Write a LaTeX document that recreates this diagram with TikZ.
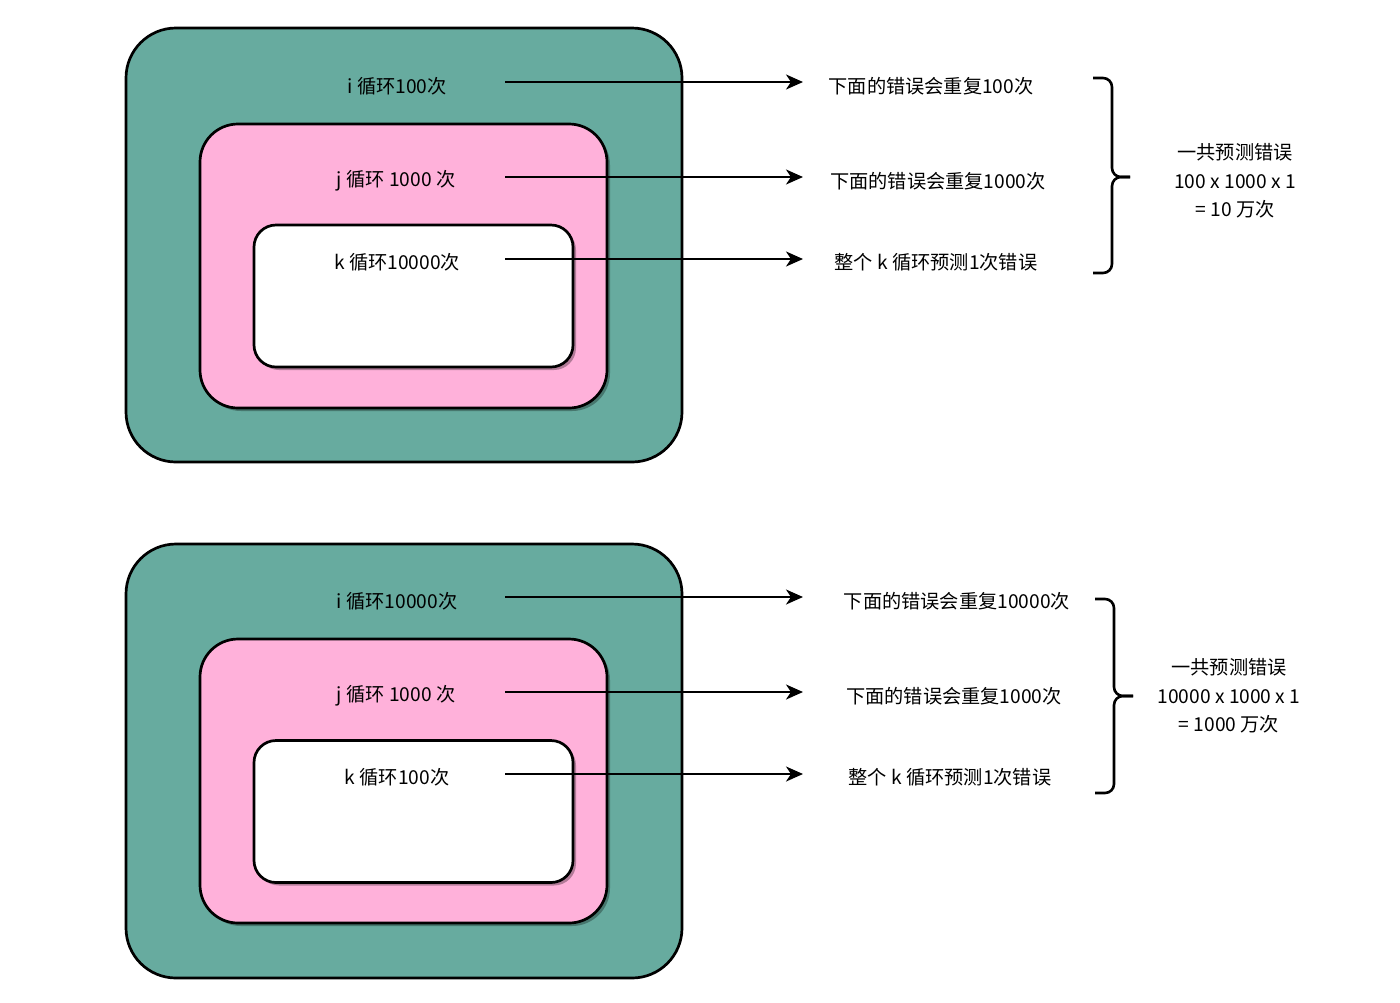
\documentclass[tikz,border=0pt]{standalone}
\usepackage{fontspec}
\setmainfont{Noto Sans CJK SC}
\usetikzlibrary{arrows.meta,shadows}
\definecolor{loopgreen}{HTML}{67AB9F}
\definecolor{looppink}{HTML}{FFB1DA}

\begin{document}
\begin{tikzpicture}[x=0.5pt,y=-0.5pt,
	font=\fontsize{9.6}{14.3}\selectfont,
	loopbox/.style={draw,line width=1.35pt,rectangle,inner sep=0pt,outer sep=0pt},
	iloop/.style={loopbox,fill=loopgreen,minimum width=278pt,minimum height=217pt,rounded corners=25pt},
	jloop/.style={loopbox,fill=looppink,minimum width=203.5pt,minimum height=142pt,rounded corners=19pt,
		drop shadow={shadow xshift=1.5pt,shadow yshift=-1.5pt,opacity=0.3,fill=black}},
	kloop/.style={loopbox,fill=white,minimum width=159.5pt,minimum height=71pt,rounded corners=11pt,
		drop shadow={shadow xshift=1.5pt,shadow yshift=-1.5pt,opacity=0.3,fill=black}},
	note/.style={align=center,inner sep=1pt},
	ptr/.style={-{Stealth[length=8.5pt,width=7.5pt,inset=2.5pt]},line width=1.15pt},
	bracket/.style={line width=1.3pt,rounded corners=4.5pt}]
	\useasboundingbox (0,0) rectangle (1400,1002);
	% first case: i 100, j 1000, k 10000
	\node[iloop] (I1) at (404,245) {};
	\node[jloop] (J1) at (403.5,266) {};
	\node[kloop] (K1) at (413.5,296) {};
	\node[note] (I1t) at (397,86) {i 循环100次};
	\node[note] (J1t) at (396,181) {j 循环 1000 次};
	\node[note] (K1t) at (397,262) {k 循环10000次};
	\node[note] (I1r) at (931,86) {下面的错误会重复100次};
	\node[note] (J1r) at (938,181) {下面的错误会重复1000次};
	\node[note] (K1r) at (936,262) {整个 k 循环预测1次错误};
	\node[note] (S1) at (1235,181) {一共预测错误\\100 x 1000 x 1\\= 10 万次};
	\coordinate (I1a) at (505,82);  \coordinate (I1b) at (803,82);
	\coordinate (J1a) at (505,177); \coordinate (J1b) at (803,177);
	\coordinate (K1a) at (505,259); \coordinate (K1b) at (803,259);
	\coordinate (B1a) at (1093,78); \coordinate (B1b) at (1093,273);
	\coordinate (B1c) at (1130,177);
	\draw[ptr] (I1a) -- (I1b);
	\draw[ptr] (J1a) -- (J1b);
	\draw[ptr] (K1a) -- (K1b);
	\draw[bracket] (B1a) -- ++(19,0) |- (B1c);
	\draw[bracket] (B1b) -- ++(19,0) |- (B1c);
	% second case: i 10000, j 1000, k 100
	\node[iloop] (I2) at (404,761) {};
	\node[jloop] (J2) at (403.5,781) {};
	\node[kloop] (K2) at (413.5,811.5) {};
	\node[note] (I2t) at (397,601) {i 循环10000次};
	\node[note] (J2t) at (396,696) {j 循环 1000 次};
	\node[note] (K2t) at (397,777) {k 循环100次};
	\node[note] (I2r) at (957,601) {下面的错误会重复10000次};
	\node[note] (J2r) at (954,696) {下面的错误会重复1000次};
	\node[note] (K2r) at (950,777) {整个 k 循环预测1次错误};
	\node[note] (S2) at (1229,696) {一共预测错误\\10000 x 1000 x 1\\= 1000 万次};
	\coordinate (I2a) at (505,597); \coordinate (I2b) at (803,597);
	\coordinate (J2a) at (505,692); \coordinate (J2b) at (803,692);
	\coordinate (K2a) at (505,774); \coordinate (K2b) at (803,774);
	\coordinate (B2a) at (1095,599); \coordinate (B2b) at (1095,793);
	\coordinate (B2c) at (1133,696);
	\draw[ptr] (I2a) -- (I2b);
	\draw[ptr] (J2a) -- (J2b);
	\draw[ptr] (K2a) -- (K2b);
	\draw[bracket] (B2a) -- ++(19,0) |- (B2c);
	\draw[bracket] (B2b) -- ++(19,0) |- (B2c);
\end{tikzpicture}
\end{document}
